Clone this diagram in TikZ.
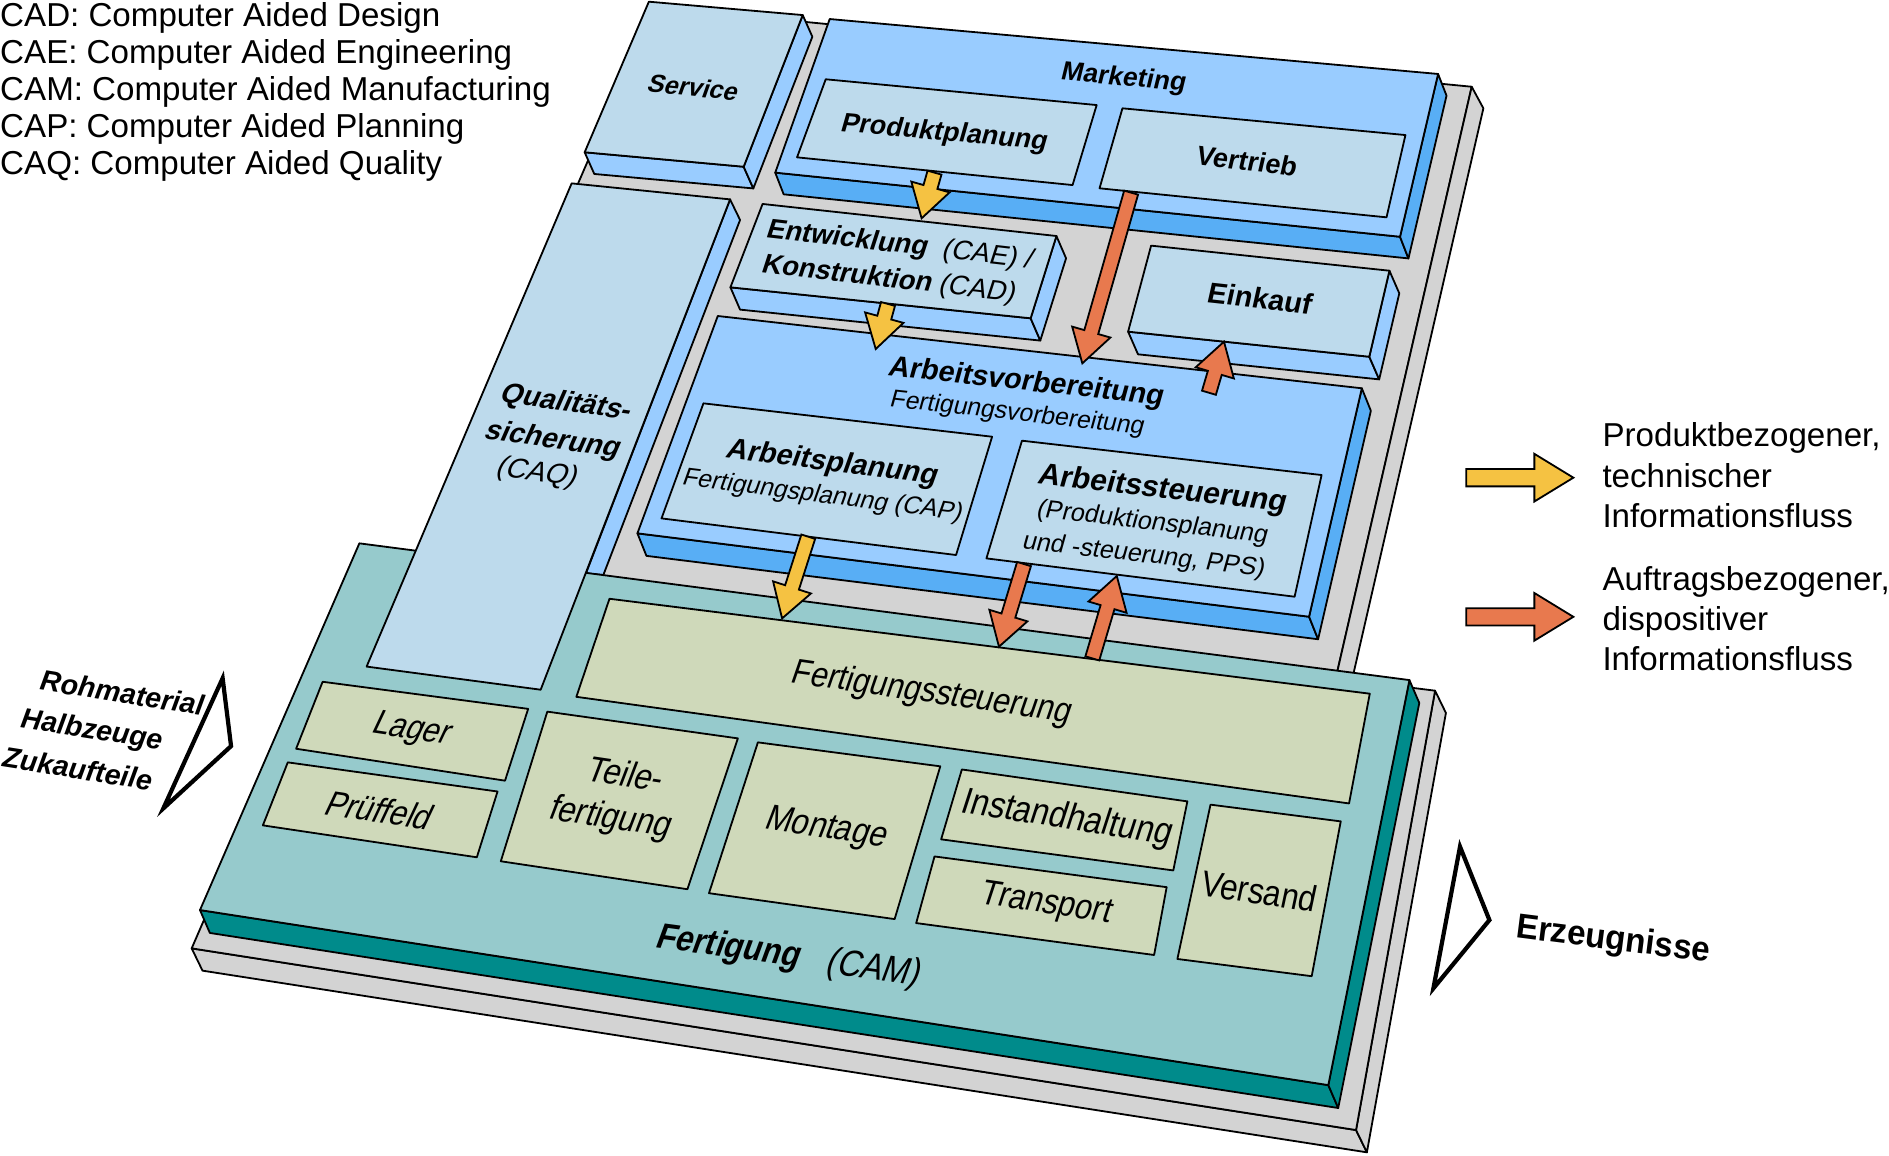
\documentclass[tikz,border=0pt]{standalone}
\usepackage{fontspec}
\setmainfont{Liberation Sans}
\usetikzlibrary{calc}

\definecolor{palebl}{HTML}{BDDAEC}
\definecolor{lightbl}{HTML}{99CCFF}
\definecolor{midbl}{HTML}{58AEF5}
\definecolor{tealtop}{HTML}{96CACC}
\definecolor{tealdark}{HTML}{008B8B}
\definecolor{olivebox}{HTML}{CFD9BA}
\definecolor{plategray}{HTML}{D3D3D3}
\definecolor{yell}{HTML}{F5C242}
\definecolor{orng}{HTML}{E8794E}

\newcommand{\fsz}[2]{\fontsize{#1}{#2}\selectfont}
% block arrow from base #3 to tip #4, #1 = size factor
\newcommand{\flowarrow}[4][1]{%
  \pgfmathsetmacro{\sw}{6*#1}\pgfmathsetmacro{\hw}{16.5*#1}\pgfmathsetmacro{\hl}{27*#1}%
  \coordinate (hb) at ($(#4)!\hl pt!(#3)$);
  \draw [flowline, fill=#2] ($(#3)!\sw pt!90:(#4)$) -- ($(hb)!\sw pt!-90:(#3)$)
    -- ($(hb)!\hw pt!-90:(#3)$) -- (#4) -- ($(hb)!\hw pt!90:(#3)$)
    -- ($(hb)!\sw pt!90:(#3)$) -- ($(#3)!\sw pt!-90:(#4)$) -- cycle;%
}

\begin{document}
\begin{tikzpicture}[x=1pt, y=-1pt,
    plate/.style={draw, line width=1.5pt, line join=round},
    flowline/.style={line width=1.5pt, line join=miter, miter limit=20},
    feed/.style={draw, line width=3.5pt, line join=miter},
    lbl/.style={inner sep=0pt},
    tilt/.style n args={3}{rotate=-#1, xslant=#2, yscale=#3},
    legend/.style={inner sep=0pt, align=left, font=\fsz{27.5}{30.75}}]
                \useasboundingbox (0,0) rectangle (1568,959);

                % Drawing lower plate
                \draw [plate, fill=plategray] (159.1,787.2) -- (1125.6,938) -- (1134.6,956.5) -- (168.1,805.7) -- cycle;%
                \draw [plate, fill=plategray] (1191.2,573.3) -- (1200.2,591.8) -- (1134.6,956.5) -- (1125.6,938) -- cycle;%
                \draw [plate, fill=plategray] (300,462) -- (1191.2,573.3) -- (1125.6,938) -- (159.1,787.2) -- cycle;%

                % Drawing upper plate
                \draw [plate, fill=plategray] (543,6) -- (1221.6,72) -- (1106,575) -- (347,460) -- cycle;%
                \draw [plate, fill=plategray] (1221.6,72) -- (1231.3,89.9) -- (1115.7,592.9) -- (1106,575) -- cycle;%

                % Drawing side of slab Qualitaetssicherung
                \draw [plate, fill=lightbl] (606,165.5) -- (614.3,182.6) -- (500.8,477.3) -- (486.4,475.9) -- cycle;%

                % Drawing slab Fertigung
                \draw [plate, fill=tealdark] (166,755.4) -- (1102.6,900.7) -- (1110.8,919.7) -- (174.2,774.4) -- cycle;%
                \draw [plate, fill=tealdark] (1169.9,564.5) -- (1178.1,583.5) -- (1110.8,919.7) -- (1102.6,900.7) -- cycle;%
                \draw [plate, fill=tealtop] (298.3,451) -- (1169.9,564.5) -- (1102.6,900.7) -- (166,755.4) -- cycle;%

                % Drawing slab Qualitaetssicherung
                \draw [plate, fill=palebl] (474.5,152.2) -- (606,165.5) -- (448.8,572.5) -- (304.3,553.3) -- cycle;%

                % Drawing slab Service
                \draw [plate, fill=lightbl] (485.3,126.4) -- (617.3,138.4) -- (625.3,156.4) -- (493.3,144.4) -- cycle;%
                \draw [plate, fill=lightbl] (666.3,12.5) -- (674.3,30.5) -- (625.3,156.4) -- (617.3,138.4) -- cycle;%
                \draw [plate, fill=palebl] (538.6,1.4) -- (666.3,12.5) -- (617.3,138.4) -- (485.3,126.4) -- cycle;%

                % Drawing slab Marketing
                \draw [plate, fill=midbl] (643.5,143.3) -- (1162.1,196.5) -- (1169.1,214.5) -- (650.5,161.3) -- cycle;%
                \draw [plate, fill=midbl] (1193.7,61.4) -- (1200.7,79.4) -- (1169.1,214.5) -- (1162.1,196.5) -- cycle;%
                \draw [plate, fill=lightbl] (688.7,15.8) -- (1193.7,61.4) -- (1162.1,196.5) -- (643.5,143.3) -- cycle;%
                \draw [plate, fill=palebl] (685.4,65.8) -- (910.3,87.2) -- (890.3,153.6) -- (661.6,130.6) -- cycle;%
                \draw [plate, fill=palebl] (931.7,89.9) -- (1166.6,112.1) -- (1150.9,180.4) -- (912.7,156.3) -- cycle;%

                % Drawing slab Entwicklung
                \draw [plate, fill=lightbl] (606.3,238.5) -- (855.5,264.2) -- (863.5,282.7) -- (614.3,257) -- cycle;%
                \draw [plate, fill=lightbl] (876.9,195.9) -- (884.9,214.4) -- (863.5,282.7) -- (855.5,264.2) -- cycle;%
                \draw [plate, fill=palebl] (633,169.3) -- (876.9,195.9) -- (855.5,264.2) -- (606.3,238.5) -- cycle;%

                % Drawing slab Einkauf
                \draw [plate, fill=lightbl] (936.4,275.3) -- (1136.6,296.1) -- (1144.8,314.9) -- (944.6,294.1) -- cycle;%
                \draw [plate, fill=lightbl] (1153.3,224.7) -- (1161.5,243.5) -- (1144.8,314.9) -- (1136.6,296.1) -- cycle;%
                \draw [plate, fill=palebl] (955.5,203.9) -- (1153.3,224.7) -- (1136.6,296.1) -- (936.4,275.3) -- cycle;%

                % Drawing slab Arbeitsvorbereitung
                \draw [plate, fill=midbl] (529.1,442.7) -- (1086.6,511.9) -- (1094.1,530.6) -- (536.6,461.4) -- cycle;%
                \draw [plate, fill=midbl] (1130.4,322.3) -- (1137.9,341) -- (1094.1,530.6) -- (1086.6,511.9) -- cycle;%
                \draw [plate, fill=lightbl] (595.8,262.3) -- (1130.4,322.3) -- (1086.6,511.9) -- (529.1,442.7) -- cycle;%
                \draw [plate, fill=palebl] (583.9,334.8) -- (823.5,362.5) -- (793.6,460.7) -- (549.1,430.3) -- cycle;%
                \draw [plate, fill=palebl] (848.3,365.8) -- (1097,394.3) -- (1074.6,495.3) -- (818.8,463.5) -- cycle;%

                % Drawing boxes of Fertigung
                \draw [plate, fill=olivebox] (505.9,497) -- (1137,575.8) -- (1119.8,666.9) -- (478.4,578.4) -- cycle;%
                \draw [plate, fill=olivebox] (267.8,565.9) -- (438.4,588.4) -- (419.2,648) -- (245.8,621.5) -- cycle;%
                \draw [plate, fill=olivebox] (238.9,632.8) -- (413,657) -- (395.8,711.6) -- (218.2,685.1) -- cycle;%
                \draw [plate, fill=olivebox] (454.3,590.7) -- (612.5,612.9) -- (570.6,738.1) -- (415.7,714.9) -- cycle;%
                \draw [plate, fill=olivebox] (629.1,616.2) -- (780.5,636.1) -- (742.6,762.9) -- (588.5,741.4) -- cycle;%
                \draw [plate, fill=olivebox] (798.4,638.7) -- (985.6,665.2) -- (973.9,722.5) -- (781.2,696.7) -- cycle;%
                \draw [plate, fill=olivebox] (775.7,710.9) -- (968.4,736.4) -- (958,792.7) -- (760.5,766.2) -- cycle;%
                \draw [plate, fill=olivebox] (1004.8,667.9) -- (1112.9,681.8) -- (1088.8,810.3) -- (977.3,796) -- cycle;%

                % Drawing feed triangles
                \draw [feed] (184.8,563) -- (191.8,619.3) -- (135.6,671) -- cycle;%
                \draw [feed] (1211.9,702.8) -- (1236.3,763.7) -- (1189.8,820.4) -- cycle;%

                % Marking arrow ends
                \coordinate (pp-out) at (775.7,143.3);
                \coordinate (en-in) at (765,181.2);
                \coordinate (en-out) at (737.1,252.3);
                \coordinate (av-in) at (726.9,289.7);
                \coordinate (vt-out) at (938.9,159.9);
                \coordinate (av-top) at (898.4,301.6);
                \coordinate (av-out) at (1003.5,326);
                \coordinate (ek-in) at (1016,283.6);
                \coordinate (ap-out) at (670.9,445.5);
                \coordinate (fs-in) at (649.2,513.3);
                \coordinate (as-out) at (850,468.2);
                \coordinate (fs-top) at (829.2,536.8);
                \coordinate (fs-out) at (906.7,546.5);
                \coordinate (as-in) at (927,478.1);
                \coordinate (key-y) at (1217,396.5);
                \coordinate (key-y-tip) at (1306,396.5);
                \coordinate (key-o) at (1217,512);
                \coordinate (key-o-tip) at (1306,512);

                % Drawing information flows
                \flowarrow{yell}{pp-out}{en-in}
                \flowarrow{yell}{en-out}{av-in}
                \flowarrow{orng}{vt-out}{av-top}
                \flowarrow{orng}{av-out}{ek-in}
                \flowarrow{yell}{ap-out}{fs-in}
                \flowarrow{orng}{as-out}{fs-top}
                \flowarrow{orng}{fs-out}{as-in}
                \flowarrow[1.2]{yell}{key-y}{key-y-tip}
                \flowarrow[1.2]{orng}{key-o}{key-o-tip}

                % Marking labels
                \node [lbl, tilt={5.6}{.25}{1}, font=\bfseries\fsz{21}{24}] (service) at (575.8,72.6) {Service};
                \node [lbl, tilt={5.2}{.15}{1}, font=\bfseries\fsz{22}{25}] (marketing) at (932.8,65.5) {Marketing};
                \node [lbl, tilt={5.1}{.19}{1}, font=\bfseries\fsz{22.4}{25}] (produkt) at (784,111) {Produktplanung};
                \node [lbl, tilt={6.7}{.11}{1}, font=\bfseries\fsz{22.5}{25}] (vertrieb) at (1035.3,133.5) {Vertrieb};
                \node [lbl, tilt={6.6}{.2}{1}, font=\fsz{22.8}{25}] (entw1) at (747,204) {\textbf{Entwicklung}\ \ (CAE) /};
                \node [lbl, tilt={6.6}{.2}{1}, font=\fsz{22.8}{25}] (entw2) at (738,232.4) {\textbf{Konstruktion} (CAD)};
                \node [lbl, tilt={6.3}{.11}{1}, font=\bfseries\fsz{24}{26}] (einkauf) at (1046,247.6) {Einkauf};
                \node [lbl, tilt={6.3}{.16}{1}, font=\bfseries\fsz{24}{26}] (av1) at (852,318) {Arbeitsvorbereitung};
                \node [lbl, tilt={6.3}{.16}{1}, font=\fsz{20.6}{23}] (av2) at (844.6,343.8) {Fertigungsvorbereitung};
                \node [lbl, tilt={7.2}{.22}{1}, font=\bfseries\fsz{24}{26}] (ap1) at (691,385) {Arbeitsplanung};
                \node [lbl, tilt={7.2}{.22}{1}, font=\fsz{20.7}{23}] (ap2) at (683,412) {Fertigungsplanung (CAP)};
                \node [lbl, tilt={6.5}{.16}{1}, font=\bfseries\fsz{25}{27}] (as1) at (965,407) {Arbeitssteuerung};
                \node [lbl, tilt={6.5}{.16}{1}, font=\fsz{21}{23}] (as2) at (956.8,434.4) {(Produktionsplanung};
                \node [lbl, tilt={6.5}{.16}{1}, font=\fsz{21}{23}] (as3) at (949.5,461.4) {und -steuerung, PPS)};
                \node [lbl, tilt={8}{.28}{1}, font=\bfseries\fsz{23.5}{26}] (qs1) at (470,335) {Qualitäts-};
                \node [lbl, tilt={8}{.28}{1}, font=\bfseries\fsz{23.5}{26}] (qs2) at (459,366) {sicherung};
                \node [lbl, tilt={8}{.28}{1}, font=\fsz{23.5}{26}] (qs3) at (446,393) {(CAQ)};
                \node [lbl, tilt={8.2}{.19}{1.15}, font=\fsz{25.5}{28}] (fs) at (773.8,575.8) {Fertigungssteuerung};
                \node [lbl, tilt={8.5}{.3}{1.15}, font=\fsz{25}{28}] (lager) at (342,606.4) {Lager};
                \node [lbl, tilt={8.5}{.3}{1.15}, font=\fsz{25.5}{28}] (prueffeld) at (315.6,672.6) {Prüffeld};
                \node [lbl, tilt={8.5}{.22}{1.15}, font=\fsz{26}{28}] (teile1) at (520,642) {Teile-};
                \node [lbl, tilt={8.5}{.22}{1.15}, font=\fsz{26}{28}] (teile2) at (507,679.7) {fertigung};
                \node [lbl, tilt={8.5}{.22}{1.15}, font=\fsz{26}{28}] (montage) at (686,688.4) {Montage};
                \node [lbl, tilt={8.8}{.16}{1.15}, font=\fsz{26.8}{28}] (instand) at (885.8,680) {Instandhaltung};
                \node [lbl, tilt={8.5}{.17}{1.15}, font=\fsz{25.7}{28}] (transport) at (868.6,751) {Transport};
                \node [lbl, tilt={8}{.07}{1.15}, font=\fsz{26.3}{28}] (versand) at (1045.4,739.7) {Versand};
                \node [lbl, tilt={7.7}{.22}{1.15}, font=\bfseries\fsz{26}{28}] (fert) at (605.3,787) {Fertigung};
                \node [lbl, tilt={7.7}{.22}{1.15}, font=\fsz{27}{28}] (cam) at (725.8,805) {(CAM)};
                \node [lbl, tilt={7.3}{0}{1.05}, font=\bfseries\fsz{27.5}{30}] (erzeugnisse) at (1339,781) {Erzeugnisse};
                \node [lbl, tilt={9}{0}{1}, font=\bfseries\itshape\fsz{23.7}{26}] (roh1) at (101.5,575) {Rohmaterial};
                \node [lbl, tilt={9}{0}{1}, font=\bfseries\itshape\fsz{23.7}{26}] (roh2) at (76,607) {Halbzeuge};
                \node [lbl, tilt={9}{0}{1}, font=\bfseries\itshape\fsz{23.7}{26}] (roh3) at (64.5,638) {Zukaufteile};

                % Marking legends
                \node [legend, anchor=north west] (abbrev) at (0,1.5) {CAD: Computer Aided Design\\CAE: Computer Aided Engineering\\CAM: Computer Aided Manufacturing\\CAP: Computer Aided Planning\\CAQ: Computer Aided Quality};
                \node [legend, anchor=west, font=\fsz{27.5}{33.5}] (keytech) at (1330,394.5) {Produktbezogener,\\technischer\\Informationsfluss};
                \node [legend, anchor=west, font=\fsz{27.5}{33.5}] (keyorder) at (1330,513.5) {Auftragsbezogener,\\dispositiver\\Informationsfluss};
\end{tikzpicture}
\end{document}
